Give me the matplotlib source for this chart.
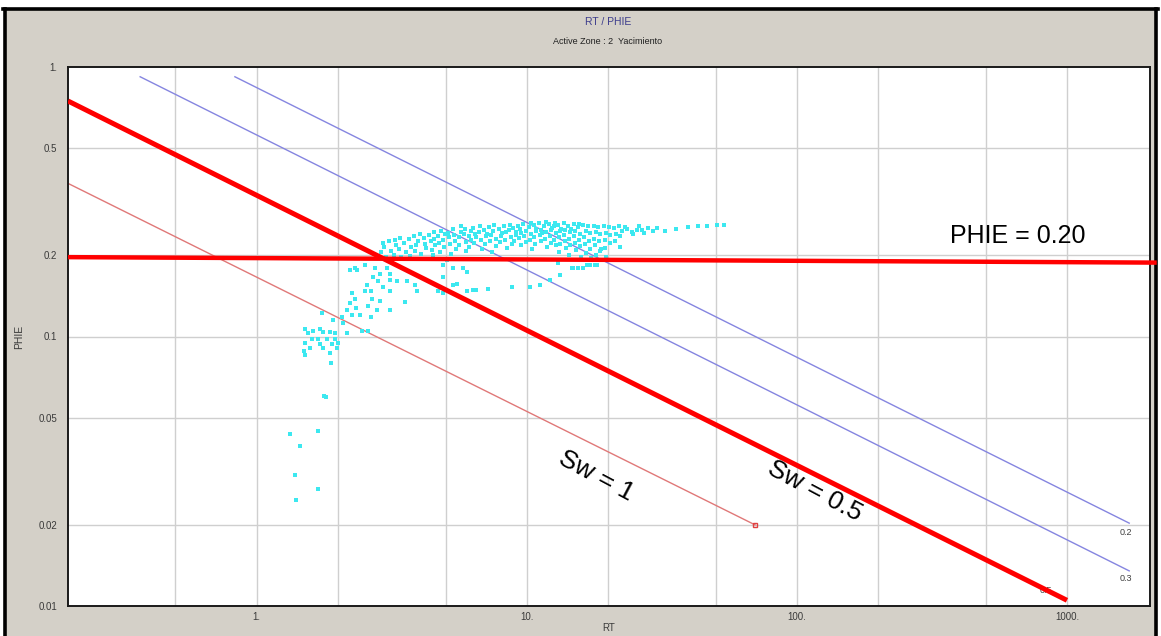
import matplotlib
matplotlib.use("Agg")
import matplotlib.pyplot as plt
from matplotlib.patches import Rectangle
from matplotlib.lines import Line2D
from matplotlib.ticker import FixedLocator, NullLocator

plt.rcParams['font.family'] = ['Liberation Sans', 'DejaVu Sans']

# ---- data ----
# cyan log points (RT, PHIE)
rt_pts = [
    # low tail
    1.33, 1.69, 1.45, 1.39, 1.69, 1.40, 1.80, 1.77, 1.89, 1.86, 1.49, 1.51,
    # cluster around 0.1
    1.51, 1.55, 1.61, 1.71, 1.76, 1.86, 1.95, 1.60, 1.68, 1.82, 1.95, 1.51,
    1.71, 1.90, 2.00, 1.57, 1.76, 1.98, 2.07, 2.09, 1.91, 1.74, 2.15, 2.45, 2.58,
    # rising branch
    2.21, 2.25, 2.34, 2.15, 2.41, 2.25, 2.31,
    2.51, 2.56, 2.64, 2.66, 2.86, 2.58, 2.79, 2.64, 3.11, 3.53, 3.11,
    2.69, 2.81, 2.93, 3.11, 3.30, 3.60, 3.85, 3.93,
    2.74, 2.86, 3.03, 3.11, 2.21, 2.31, 2.36, 2.51,
    4.90, 5.05, 4.90, 5.33, 4.68, 4.90, 5.50, 5.33,
    # lower scattered row
    6.0, 6.3, 6.5, 7.2, 8.8, 10.3, 11.2, 12.2, 13.3, 14.8, 16.1, 17.1, 18.2,
    5.8, 6.0, 13.0, 14.7, 15.5, 16.7, 17.9, 18.9,
    # dense band
    2.88, 2.94, 3.02, 2.97, 3.08, 3.13, 3.21, 3.28, 3.24, 3.37, 3.43, 3.40, 3.52, 3.58,
    3.66, 3.73, 3.69, 3.81, 3.89, 3.84, 3.96, 4.04, 4.01, 4.16, 4.24, 4.19,
    4.36, 4.45, 4.40, 4.48, 4.52, 4.59, 4.55, 4.70, 4.78, 4.74, 4.81,
    4.91, 4.99, 4.94, 5.10, 5.19, 5.14, 5.22, 5.35, 5.44, 5.38, 5.47,
    5.60, 5.69, 5.63, 5.72, 5.85, 5.94, 5.88, 5.97, 6.10, 6.19, 6.13, 6.22,
    6.34, 6.45, 6.38, 6.50, 6.63, 6.76, 6.68, 6.80, 6.93, 7.06, 6.98, 7.10,
    7.22, 7.37, 7.28, 7.40, 7.52, 7.67, 7.58, 7.71, 7.87, 8.02, 7.93, 8.06,
    8.21, 8.38, 8.27, 8.41, 8.56, 8.74, 8.63, 8.78, 8.91, 9.09, 8.98, 9.13,
    9.30, 9.48, 9.37, 9.52, 9.42, 9.70, 9.89, 9.77, 9.93,
    10.2, 10.4, 10.25, 10.35, 10.45, 10.6, 10.8, 10.65, 10.75, 10.85,
    11.1, 11.3, 11.15, 11.25, 11.35, 11.6, 11.8, 11.65, 11.75, 11.85,
    12.1, 12.3, 12.15, 12.25, 12.35, 12.6, 12.8, 12.65, 12.75, 12.85,
    13.0, 13.3, 13.1, 13.25, 13.4, 13.15, 13.7, 13.9, 13.75, 13.85, 14.0,
    14.2, 14.5, 14.3, 14.45, 14.6, 14.35, 14.9, 15.1, 14.95, 15.05, 15.2,
    15.5, 15.8, 15.6, 15.75, 15.9, 15.65, 16.2, 16.5, 16.3, 16.45, 16.6,
    16.9, 17.2, 17.0, 17.15, 17.3, 17.7, 18.0, 17.8, 17.95, 18.1,
    18.4, 18.7, 18.5, 18.65, 19.3, 19.6, 19.4, 19.55, 19.7,
    20.1, 20.4, 20.25, 21.0, 21.3, 21.15, 21.9, 22.2, 22.05,
    # flat tail to the right
    22.5, 23.5, 24.5, 25.5, 26.8, 28.0, 29.2, 30.3, 32.5, 35.6, 39.5, 42.9,
    46.5, 50.6, 53.7, 23.0, 24.8, 26.0, 27.2,
]
phie_pts = [
    0.0436, 0.0447, 0.0393, 0.0307, 0.0272, 0.0248, 0.0598, 0.0600, 0.0800, 0.0872, 0.0887, 0.0857,
    0.107, 0.103, 0.105, 0.107, 0.104, 0.104, 0.103, 0.098, 0.098, 0.098, 0.098, 0.095,
    0.094, 0.094, 0.095, 0.091, 0.091, 0.091, 0.118, 0.112, 0.115, 0.122, 0.103, 0.105, 0.105,
    0.133, 0.120, 0.128, 0.125, 0.120, 0.145, 0.138,
    0.148, 0.155, 0.148, 0.138, 0.136, 0.130, 0.125, 0.118, 0.148, 0.134, 0.125,
    0.166, 0.160, 0.152, 0.162, 0.160, 0.160, 0.155, 0.148,
    0.180, 0.171, 0.179, 0.171, 0.176, 0.179, 0.176, 0.184,
    0.184, 0.192, 0.166, 0.180, 0.148, 0.145, 0.157, 0.155,
    0.148, 0.149, 0.149, 0.150, 0.152, 0.152, 0.155, 0.162, 0.169, 0.179, 0.180, 0.184, 0.184,
    0.180, 0.173, 0.187, 0.179, 0.180, 0.184, 0.184, 0.212,
    0.205, 0.222, 0.198, 0.215, 0.226, 0.208, 0.201, 0.219, 0.228, 0.212, 0.197, 0.232, 0.222, 0.205,
    0.230, 0.214, 0.199, 0.236, 0.218, 0.207, 0.226, 0.203, 0.240, 0.232, 0.213, 0.221,
    0.238, 0.209, 0.227, 0.200, 0.244, 0.218, 0.231, 0.236, 0.205, 0.222, 0.247,
    0.229, 0.240, 0.214, 0.243, 0.220, 0.233, 0.203, 0.250, 0.226, 0.238, 0.211,
    0.234, 0.245, 0.218, 0.256, 0.241, 0.224, 0.251, 0.207, 0.236, 0.247, 0.215, 0.229,
    0.253, 0.240, 0.222, 0.233, 0.244, 0.228, 0.257, 0.212, 0.249, 0.235, 0.220, 0.241,
    0.254, 0.238, 0.226, 0.205, 0.246, 0.231, 0.259, 0.217, 0.251, 0.237, 0.224, 0.242,
    0.256, 0.244, 0.229, 0.213, 0.248, 0.233, 0.260, 0.221, 0.253, 0.239, 0.226, 0.245,
    0.258, 0.243, 0.232, 0.218, 0.250, 0.262, 0.247, 0.236, 0.224,
    0.255, 0.241, 0.229, 0.264, 0.212, 0.259, 0.246, 0.234, 0.221, 0.251,
    0.263, 0.249, 0.238, 0.226, 0.243, 0.257, 0.244, 0.231, 0.266, 0.215,
    0.261, 0.248, 0.236, 0.223, 0.253, 0.256, 0.242, 0.229, 0.264, 0.218,
    0.259, 0.246, 0.233, 0.221, 0.251, 0.205, 0.263, 0.249, 0.238, 0.226, 0.213,
    0.257, 0.244, 0.231, 0.219, 0.251, 0.200, 0.261, 0.247, 0.235, 0.223, 0.210,
    0.255, 0.241, 0.229, 0.216, 0.198, 0.262, 0.259, 0.246, 0.233, 0.221, 0.204,
    0.256, 0.242, 0.227, 0.212, 0.195, 0.258, 0.245, 0.231, 0.218, 0.201,
    0.254, 0.240, 0.226, 0.208, 0.257, 0.243, 0.229, 0.213, 0.197,
    0.255, 0.238, 0.222, 0.253, 0.241, 0.226, 0.256, 0.236, 0.215,
    0.246, 0.250, 0.245, 0.248, 0.249, 0.253, 0.246, 0.253, 0.246, 0.251, 0.255, 0.257,
    0.257, 0.259, 0.259, 0.255, 0.240, 0.256, 0.243,
]

# Sw lines (end points)
sw1_rt = [0.2, 70.0]
sw1_phie = [0.37, 0.020]
sw03_rt = [0.37, 1700.0]
sw03_phie = [0.92, 0.0135]
sw02_rt = [0.83, 1700.0]
sw02_phie = [0.92, 0.0203]
# hand drawn overlays
sw05_rt = [0.2, 1000.0]
sw05_phie = [0.748, 0.0105]
cut_rt = [0.2, 2150.0]
cut_phie = [0.197, 0.188]

x_ticks = [1, 10, 100, 1000]
x_ticklabels = ['1.', '10.', '100.', '1000.']
y_ticks = [0.01, 0.02, 0.05, 0.1, 0.2, 0.5, 1]
y_ticklabels = ['0.01', '0.02', '0.05', '0.1', '0.2', '0.5', '1.']
x_grid = [0.5, 1, 2, 5, 10, 20, 50, 100, 200, 500, 1000]
y_grid = [0.02, 0.05, 0.1, 0.2, 0.5]

W, H = 1161, 636
fig = plt.figure(figsize=(W / 100, H / 100), dpi=100)
fig.patch.set_facecolor('white')

# window background and frame
fig.patches.append(Rectangle((5 / W, 0), 1151 / W, 1 - 9 / H, transform=fig.transFigure,
                             facecolor='#d4d0c8', edgecolor='none', zorder=-10))
for xs, ys in [([5 / W, 5 / W], [0, 1 - 9 / H]),
               ([1156 / W, 1156 / W], [0, 1 - 9 / H]),
               ([3 / W, 1158 / W], [1 - 9 / H, 1 - 9 / H])]:
    fig.lines.append(Line2D(xs, ys, transform=fig.transFigure, color='black', lw=2.6,
                            zorder=-5))

ax = fig.add_axes([68 / W, 30 / H, 1082 / W, 539 / H])
ax.set_zorder(1)
ax.set_xscale('log')
ax.set_yscale('log')
ax.set_xlim(0.2, 2030)
ax.set_ylim(0.01, 1)
ax.set_facecolor('white')
for s in ax.spines.values():
    s.set_color('#1a1a1a')
    s.set_linewidth(1.4)

ax.xaxis.set_major_locator(FixedLocator(x_ticks))
ax.xaxis.set_minor_locator(NullLocator())
ax.yaxis.set_major_locator(FixedLocator(y_ticks))
ax.yaxis.set_minor_locator(NullLocator())
ax.set_xticklabels(x_ticklabels)
ax.set_yticklabels(y_ticklabels)
ax.tick_params(length=0, labelsize=7, colors='#3a3a3a')
ax.tick_params(axis='x', pad=4)
ax.tick_params(axis='y', pad=8)

for g in x_grid:
    ax.axvline(g, color='#cfcfcf', lw=1.0, zorder=0)
for g in y_grid:
    ax.axhline(g, color='#cfcfcf', lw=1.0, zorder=0)

ax.set_xlabel('RT', fontsize=7, color='#3a3a3a', labelpad=1)
ax.set_ylabel('PHIE', fontsize=7.5, color='#3a3a3a', labelpad=10)

fig.text(608 / W, 1 - 22 / H, 'RT / PHIE', ha='center', va='center', fontsize=7.5,
         color='#3c3c8c')
fig.text(608 / W, 1 - 41 / H, 'Active Zone : 2  Yacimiento', ha='center', va='center',
         fontsize=6.5, color='#202020')

ax.scatter(rt_pts, phie_pts, s=8, marker='s', color='#3ce8f0', linewidths=0, zorder=3)

ax.plot(sw1_rt, sw1_phie, color='#e07878', lw=1.0, zorder=2)
ax.plot(sw1_rt[-1:], sw1_phie[-1:], marker='s', ms=3.5, mfc='none', mec='#e04040', mew=1, zorder=2)
ax.plot(sw03_rt, sw03_phie, color='#8585e0', lw=1.0, zorder=2)
ax.plot(sw02_rt, sw02_phie, color='#8585e0', lw=1.0, zorder=2)

ax.text(1572, 0.0188, '0.2', fontsize=6.5, color='#404040', ha='left', va='center')
ax.text(1572, 0.0127, '0.3', fontsize=6.5, color='#404040', ha='left', va='center')
ax.text(795, 0.0114, '0.5', fontsize=6.5, color='#404040', ha='left', va='center', zorder=2)

ax.plot(sw05_rt, sw05_phie, color='#ff0000', lw=3.6, solid_capstyle='butt', zorder=5)
ax.plot(cut_rt, cut_phie, color='#ff0000', lw=3.2, solid_capstyle='butt', zorder=5,
        clip_on=False)

ax.text(369, 0.237, 'PHIE = 0.20', fontsize=18, color='black', ha='left', va='center', zorder=6)
ax.text(18.0, 0.0304, 'Sw = 1', fontsize=19, color='black', ha='center', va='center',
        rotation=-28, rotation_mode='anchor', zorder=6)
ax.text(116.6, 0.0268, 'Sw = 0.5', fontsize=19, color='black', ha='center', va='center',
        rotation=-28, rotation_mode='anchor', zorder=6)

fig.savefig('out.png', dpi=100)
